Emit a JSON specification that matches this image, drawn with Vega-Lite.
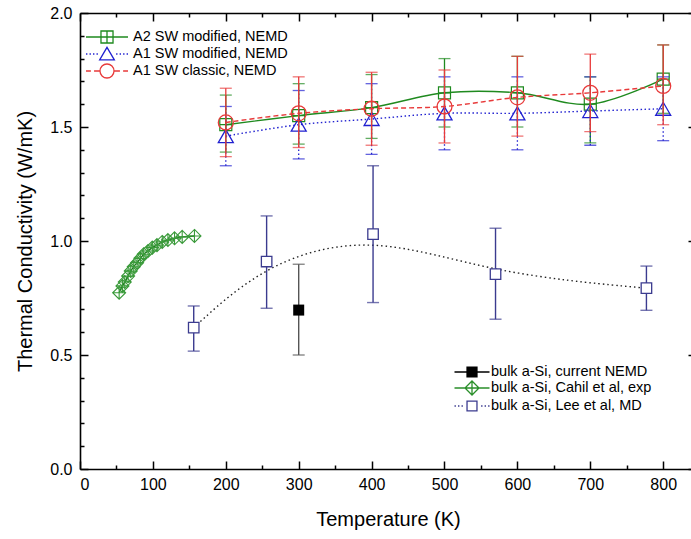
{
  "$schema": "https://vega.github.io/schema/vega-lite/v6.json",
  "width": 616,
  "height": 456,
  "autosize": {"type": "none"},
  "padding": {"left": 80, "top": 13, "right": 0, "bottom": 70},
  "background": "white",
  "config": {
    "view": {"stroke": null},
    "font": "Liberation Sans",
    "axis": {"grid": false, "domainColor": "black", "domainWidth": 1.6, "tickColor": "black", "tickWidth": 1.5, "labelFont": "Liberation Sans", "labelFontSize": 16, "labelColor": "black", "titleFont": "Liberation Sans", "titleFontSize": 20, "titleFontWeight": "normal", "titleColor": "black"},
    "legend": {"labelFont": "Liberation Sans", "labelFontSize": 14.5, "labelColor": "black"}
  },
  "datasets": {
    "nemd": [
      {"series": "A2 SW modified, NEMD", "T": 200, "k": 1.51, "lo": 1.39, "hi": 1.64},
      {"series": "A2 SW modified, NEMD", "T": 300, "k": 1.55, "lo": 1.425, "hi": 1.69},
      {"series": "A2 SW modified, NEMD", "T": 400, "k": 1.585, "lo": 1.45, "hi": 1.73},
      {"series": "A2 SW modified, NEMD", "T": 500, "k": 1.65, "lo": 1.5, "hi": 1.8},
      {"series": "A2 SW modified, NEMD", "T": 600, "k": 1.65, "lo": 1.5, "hi": 1.81},
      {"series": "A2 SW modified, NEMD", "T": 700, "k": 1.6, "lo": 1.43, "hi": 1.72},
      {"series": "A2 SW modified, NEMD", "T": 800, "k": 1.71, "lo": 1.56, "hi": 1.86},
      {"series": "A1 SW modified, NEMD", "T": 200, "k": 1.46, "lo": 1.33, "hi": 1.59},
      {"series": "A1 SW modified, NEMD", "T": 300, "k": 1.51, "lo": 1.36, "hi": 1.66},
      {"series": "A1 SW modified, NEMD", "T": 400, "k": 1.535, "lo": 1.38, "hi": 1.69},
      {"series": "A1 SW modified, NEMD", "T": 500, "k": 1.56, "lo": 1.4, "hi": 1.72},
      {"series": "A1 SW modified, NEMD", "T": 600, "k": 1.56, "lo": 1.4, "hi": 1.72},
      {"series": "A1 SW modified, NEMD", "T": 700, "k": 1.57, "lo": 1.42, "hi": 1.72},
      {"series": "A1 SW modified, NEMD", "T": 800, "k": 1.58, "lo": 1.44, "hi": 1.72},
      {"series": "A1 SW classic, NEMD", "T": 200, "k": 1.52, "lo": 1.37, "hi": 1.67},
      {"series": "A1 SW classic, NEMD", "T": 300, "k": 1.56, "lo": 1.41, "hi": 1.72},
      {"series": "A1 SW classic, NEMD", "T": 400, "k": 1.58, "lo": 1.42, "hi": 1.74},
      {"series": "A1 SW classic, NEMD", "T": 500, "k": 1.59, "lo": 1.43, "hi": 1.75},
      {"series": "A1 SW classic, NEMD", "T": 600, "k": 1.63, "lo": 1.46, "hi": 1.81},
      {"series": "A1 SW classic, NEMD", "T": 700, "k": 1.65, "lo": 1.48, "hi": 1.82},
      {"series": "A1 SW classic, NEMD", "T": 800, "k": 1.68, "lo": 1.51, "hi": 1.86}
    ],
    "lee": [
      {"series": "bulk a-Si, Lee et al, MD", "T": 156, "k": 0.62, "lo": 0.517, "hi": 0.715},
      {"series": "bulk a-Si, Lee et al, MD", "T": 256, "k": 0.91, "lo": 0.705, "hi": 1.11},
      {"series": "bulk a-Si, Lee et al, MD", "T": 402, "k": 1.03, "lo": 0.73, "hi": 1.33},
      {"series": "bulk a-Si, Lee et al, MD", "T": 570, "k": 0.855, "lo": 0.657, "hi": 1.056},
      {"series": "bulk a-Si, Lee et al, MD", "T": 777, "k": 0.793, "lo": 0.696, "hi": 0.89}
    ],
    "current": [
      {"series": "bulk a-Si, current NEMD", "T": 300, "k": 0.697, "lo": 0.5, "hi": 0.898}
    ],
    "cahil": [
      {"series": "bulk a-Si, Cahil et al, exp", "T": 53.7, "k": 0.773},
      {"series": "bulk a-Si, Cahil et al, exp", "T": 58.2, "k": 0.803},
      {"series": "bulk a-Si, Cahil et al, exp", "T": 61.4, "k": 0.82},
      {"series": "bulk a-Si, Cahil et al, exp", "T": 66, "k": 0.846},
      {"series": "bulk a-Si, Cahil et al, exp", "T": 69.6, "k": 0.868},
      {"series": "bulk a-Si, Cahil et al, exp", "T": 73.7, "k": 0.887},
      {"series": "bulk a-Si, Cahil et al, exp", "T": 78.3, "k": 0.905},
      {"series": "bulk a-Si, Cahil et al, exp", "T": 82.8, "k": 0.924},
      {"series": "bulk a-Si, Cahil et al, exp", "T": 87.4, "k": 0.942},
      {"series": "bulk a-Si, Cahil et al, exp", "T": 93.3, "k": 0.956},
      {"series": "bulk a-Si, Cahil et al, exp", "T": 99.2, "k": 0.971},
      {"series": "bulk a-Si, Cahil et al, exp", "T": 105.6, "k": 0.982},
      {"series": "bulk a-Si, Cahil et al, exp", "T": 112.8, "k": 0.996},
      {"series": "bulk a-Si, Cahil et al, exp", "T": 120.6, "k": 1.004},
      {"series": "bulk a-Si, Cahil et al, exp", "T": 129.7, "k": 1.012},
      {"series": "bulk a-Si, Cahil et al, exp", "T": 140.2, "k": 1.018},
      {"series": "bulk a-Si, Cahil et al, exp", "T": 157, "k": 1.022}
    ]
  },
  "layer": [
    {
      "data": {"name": "lee"},
      "mark": {"type": "line", "interpolate": "basis", "color": "#222222", "strokeWidth": 1.4, "strokeDash": [1.5, 3]},
      "encoding": {
        "x": {"field": "T", "type": "quantitative", "scale": {"domain": [0, 845], "nice": false, "zero": false},
              "axis": {"orient": "bottom", "values": [0, 100, 200, 300, 400, 500, 600, 700, 800], "format": "d", "tickSize": -8, "labelPadding": 15, "title": "Temperature (K)", "titlePadding": 17}},
        "y": {"field": "k", "type": "quantitative", "scale": {"domain": [0, 2], "nice": false, "zero": false},
              "axis": {"orient": "left", "values": [0, 0.5, 1, 1.5, 2], "format": ".1f", "tickSize": -8, "labelPadding": 16, "title": "Thermal Conductivity (W/mK)", "titlePadding": 14}}
      }
    },
    {
      "data": {"name": "lee"},
      "mark": {"type": "errorbar", "color": "#3b3b8f", "ticks": true, "size": 12, "thickness": 1.4},
      "encoding": {
        "x": {"field": "T", "type": "quantitative", "scale": {"domain": [0, 845], "nice": false, "zero": false}, "axis": null},
        "y": {"field": "lo", "type": "quantitative", "scale": {"domain": [0, 2], "nice": false, "zero": false}, "axis": null},
        "y2": {"field": "hi"}
      }
    },
    {
      "data": {"name": "lee"},
      "mark": {"type": "point", "shape": "square", "size": 110, "filled": false, "fill": "white", "fillOpacity": 1, "strokeWidth": 1.3, "opacity": 1},
      "encoding": {
        "x": {"field": "T", "type": "quantitative", "scale": {"domain": [0, 845], "nice": false, "zero": false},
              "axis": {"orient": "bottom", "values": [50, 150, 250, 350, 450, 550, 650, 750], "tickSize": -4, "labels": false, "domain": false, "title": null}},
        "y": {"field": "k", "type": "quantitative", "scale": {"domain": [0, 2], "nice": false, "zero": false},
              "axis": {"orient": "left", "values": [0.1, 0.2, 0.3, 0.4, 0.6, 0.7, 0.8, 0.9, 1.1, 1.2, 1.3, 1.4, 1.6, 1.7, 1.8, 1.9], "tickSize": -4, "labels": false, "domain": false, "title": null}},
        "stroke": {"field": "series", "type": "nominal",
          "scale": {"domain": ["bulk a-Si, current NEMD", "bulk a-Si, Cahil et al, exp", "bulk a-Si, Lee et al, MD"], "range": ["#000000", "#2a8f2a", "#3b3b8f"]},
          "legend": {"title": null, "orient": "none", "legendX": 384, "legendY": 351, "padding": 0, "symbolSize": 196, "labelOffset": 11, "rowPadding": -4.3, "labelFontSize": 14.5, "labelLimit": 300, "symbolStrokeWidth": 1.3, "symbolOpacity": 1,
            "symbolType": {"expr": "datum.value === 'bulk a-Si, current NEMD' ? 'M-2.5,0H2.5M-0.71,-0.71H0.71V0.71H-0.71ZM-0.71,-0.54H0.71M-0.71,-0.36H0.71M-0.71,-0.18H0.71M-0.71,0.18H0.71M-0.71,0.36H0.71M-0.71,0.54H0.71' : datum.value === 'bulk a-Si, Cahil et al, exp' ? 'M-2.5,0H2.5M0,-1L1,0L0,1L-1,0ZM0,-1V1' : 'M-2.5,0h0.2M-2,0h0.2M-1.5,0h0.2M1.3,0h0.2M1.8,0h0.2M2.3,0h0.2M-0.71,-0.71H0.71V0.71H-0.71Z'"}
          }
        }
      }
    },
    {
      "data": {"name": "current"},
      "mark": {"type": "errorbar", "color": "#555555", "ticks": true, "size": 12, "thickness": 1.4},
      "encoding": {
        "x": {"field": "T", "type": "quantitative", "scale": {"domain": [0, 845], "nice": false, "zero": false}, "axis": null},
        "y": {"field": "lo", "type": "quantitative", "scale": {"domain": [0, 2], "nice": false, "zero": false}, "axis": null},
        "y2": {"field": "hi"}
      }
    },
    {
      "data": {"name": "current"},
      "mark": {"type": "point", "shape": "square", "size": 121, "filled": true, "color": "#000000", "opacity": 1},
      "encoding": {
        "x": {"field": "T", "type": "quantitative", "scale": {"domain": [0, 845], "nice": false, "zero": false},
              "axis": {"orient": "top", "values": [0, 100, 200, 300, 400, 500, 600, 700, 800], "tickSize": -8, "labels": false, "title": null}},
        "y": {"field": "k", "type": "quantitative", "scale": {"domain": [0, 2], "nice": false, "zero": false},
              "axis": {"orient": "right", "values": [0, 0.5, 1, 1.5, 2], "tickSize": -8, "labels": false, "title": null}}
      }
    },
    {
      "data": {"name": "cahil"},
      "mark": {"type": "line", "interpolate": "monotone", "color": "#1a7a1a", "strokeWidth": 1.4},
      "encoding": {
        "x": {"field": "T", "type": "quantitative", "scale": {"domain": [0, 845], "nice": false, "zero": false},
              "axis": {"orient": "top", "values": [50, 150, 250, 350, 450, 550, 650, 750], "tickSize": -4, "labels": false, "domain": false, "title": null}},
        "y": {"field": "k", "type": "quantitative", "scale": {"domain": [0, 2], "nice": false, "zero": false},
              "axis": {"orient": "right", "values": [0.1, 0.2, 0.3, 0.4, 0.6, 0.7, 0.8, 0.9, 1.1, 1.2, 1.3, 1.4, 1.6, 1.7, 1.8, 1.9], "tickSize": -4, "labels": false, "domain": false, "title": null}}
      }
    },
    {
      "data": {"name": "cahil"},
      "mark": {"type": "point", "shape": "M0,-1L1,0L0,1L-1,0ZM0,-1V1M-1,0H1", "size": 169, "filled": false, "color": "#3a9a3a", "strokeWidth": 1.1, "opacity": 1},
      "encoding": {
        "x": {"field": "T", "type": "quantitative", "scale": {"domain": [0, 845], "nice": false, "zero": false}, "axis": null},
        "y": {"field": "k", "type": "quantitative", "scale": {"domain": [0, 2], "nice": false, "zero": false}, "axis": null}
      }
    },
    {
      "data": {"name": "nemd"},
      "transform": [{"filter": "datum.series === 'A2 SW modified, NEMD'"}],
      "mark": {"type": "errorbar", "color": "#1f8a1f", "ticks": true, "size": 12, "thickness": 1.3},
      "encoding": {
        "x": {"field": "T", "type": "quantitative", "scale": {"domain": [0, 845], "nice": false, "zero": false}, "axis": null},
        "y": {"field": "lo", "type": "quantitative", "scale": {"domain": [0, 2], "nice": false, "zero": false}, "axis": null},
        "y2": {"field": "hi"}
      }
    },
    {
      "data": {"name": "nemd"},
      "transform": [{"filter": "datum.series === 'A2 SW modified, NEMD'"}],
      "mark": {"type": "line", "interpolate": "catmull-rom", "color": "#1f8a1f", "strokeWidth": 1.4},
      "encoding": {
        "x": {"field": "T", "type": "quantitative", "scale": {"domain": [0, 845], "nice": false, "zero": false}, "axis": null},
        "y": {"field": "k", "type": "quantitative", "scale": {"domain": [0, 2], "nice": false, "zero": false}, "axis": null}
      }
    },
    {
      "data": {"name": "nemd"},
      "transform": [{"filter": "datum.series === 'A2 SW modified, NEMD'"}],
      "mark": {"type": "point", "shape": "M-1,-1H1V1H-1ZM0,-1V1M-1,0H1", "size": 144, "filled": false, "strokeWidth": 1.2, "opacity": 1},
      "encoding": {
        "x": {"field": "T", "type": "quantitative", "scale": {"domain": [0, 845], "nice": false, "zero": false}, "axis": null},
        "y": {"field": "k", "type": "quantitative", "scale": {"domain": [0, 2], "nice": false, "zero": false}, "axis": null},
        "color": {"field": "series", "type": "nominal",
          "scale": {"domain": ["A2 SW modified, NEMD", "A1 SW modified, NEMD", "A1 SW classic, NEMD"], "range": ["#1f8a1f", "#2020d0", "#e83a3a"]},
          "legend": {"title": null, "orient": "none", "legendX": 19, "legendY": 16, "padding": 0, "symbolSize": 196, "labelOffset": 18, "rowPadding": -2.2, "labelFontSize": 14.5, "labelLimit": 300, "symbolStrokeWidth": 1.3, "symbolOpacity": 1,
            "symbolType": {"expr": "datum.value === 'A2 SW modified, NEMD' ? 'M-3,0H3M-0.86,-0.86H0.86V0.86H-0.86ZM0,-0.86V0.86' : datum.value === 'A1 SW modified, NEMD' ? 'M-3,0h0.2M-2.5,0h0.2M-2,0h0.2M-1.5,0h0.2M1.3,0h0.2M1.8,0h0.2M2.3,0h0.2M2.8,0h0.2M0,-0.95L1.05,0.85H-1.05Z' : 'M-3,0H-2.3M-1.85,0H-1.05M1.05,0H1.85M2.3,0H3M1,0A1,1 0 1,1 -1,0A1,1 0 1,1 1,0Z'"}
          }
        }
      }
    },
    {
      "data": {"name": "nemd"},
      "transform": [{"filter": "datum.series === 'A1 SW modified, NEMD'"}],
      "mark": {"type": "errorbar", "color": "#2020d0", "ticks": true, "size": 12, "thickness": 1.3, "rule": {"strokeDash": [1.5, 2.5]}},
      "encoding": {
        "x": {"field": "T", "type": "quantitative", "scale": {"domain": [0, 845], "nice": false, "zero": false}, "axis": null},
        "y": {"field": "lo", "type": "quantitative", "scale": {"domain": [0, 2], "nice": false, "zero": false}, "axis": null},
        "y2": {"field": "hi"}
      }
    },
    {
      "data": {"name": "nemd"},
      "transform": [{"filter": "datum.series === 'A1 SW modified, NEMD'"}],
      "mark": {"type": "line", "interpolate": "catmull-rom", "color": "#2020d0", "strokeWidth": 1.4, "strokeDash": [1.5, 2.5]},
      "encoding": {
        "x": {"field": "T", "type": "quantitative", "scale": {"domain": [0, 845], "nice": false, "zero": false}, "axis": null},
        "y": {"field": "k", "type": "quantitative", "scale": {"domain": [0, 2], "nice": false, "zero": false}, "axis": null}
      }
    },
    {
      "data": {"name": "nemd"},
      "transform": [{"filter": "datum.series === 'A1 SW modified, NEMD'"}],
      "mark": {"type": "point", "shape": "triangle-up", "size": 225, "filled": false, "color": "#2020d0", "strokeWidth": 1.3, "opacity": 1},
      "encoding": {
        "x": {"field": "T", "type": "quantitative", "scale": {"domain": [0, 845], "nice": false, "zero": false}, "axis": null},
        "y": {"field": "k", "type": "quantitative", "scale": {"domain": [0, 2], "nice": false, "zero": false}, "axis": null}
      }
    },
    {
      "data": {"name": "nemd"},
      "transform": [{"filter": "datum.series === 'A1 SW classic, NEMD'"}],
      "mark": {"type": "errorbar", "color": "#e83a3a", "ticks": true, "size": 12, "thickness": 1.3},
      "encoding": {
        "x": {"field": "T", "type": "quantitative", "scale": {"domain": [0, 845], "nice": false, "zero": false}, "axis": null},
        "y": {"field": "lo", "type": "quantitative", "scale": {"domain": [0, 2], "nice": false, "zero": false}, "axis": null},
        "y2": {"field": "hi"}
      }
    },
    {
      "data": {"name": "nemd"},
      "transform": [{"filter": "datum.series === 'A1 SW classic, NEMD'"}],
      "mark": {"type": "line", "interpolate": "catmull-rom", "color": "#e83a3a", "strokeWidth": 1.4, "strokeDash": [5, 3]},
      "encoding": {
        "x": {"field": "T", "type": "quantitative", "scale": {"domain": [0, 845], "nice": false, "zero": false}, "axis": null},
        "y": {"field": "k", "type": "quantitative", "scale": {"domain": [0, 2], "nice": false, "zero": false}, "axis": null}
      }
    },
    {
      "data": {"name": "nemd"},
      "transform": [{"filter": "datum.series === 'A1 SW classic, NEMD'"}],
      "mark": {"type": "point", "shape": "circle", "size": 225, "filled": false, "color": "#e83a3a", "strokeWidth": 1.3, "opacity": 1},
      "encoding": {
        "x": {"field": "T", "type": "quantitative", "scale": {"domain": [0, 845], "nice": false, "zero": false}, "axis": null},
        "y": {"field": "k", "type": "quantitative", "scale": {"domain": [0, 2], "nice": false, "zero": false}, "axis": null}
      }
    }
  ],
  "resolve": {"axis": {"x": "independent", "y": "independent"}}
}
